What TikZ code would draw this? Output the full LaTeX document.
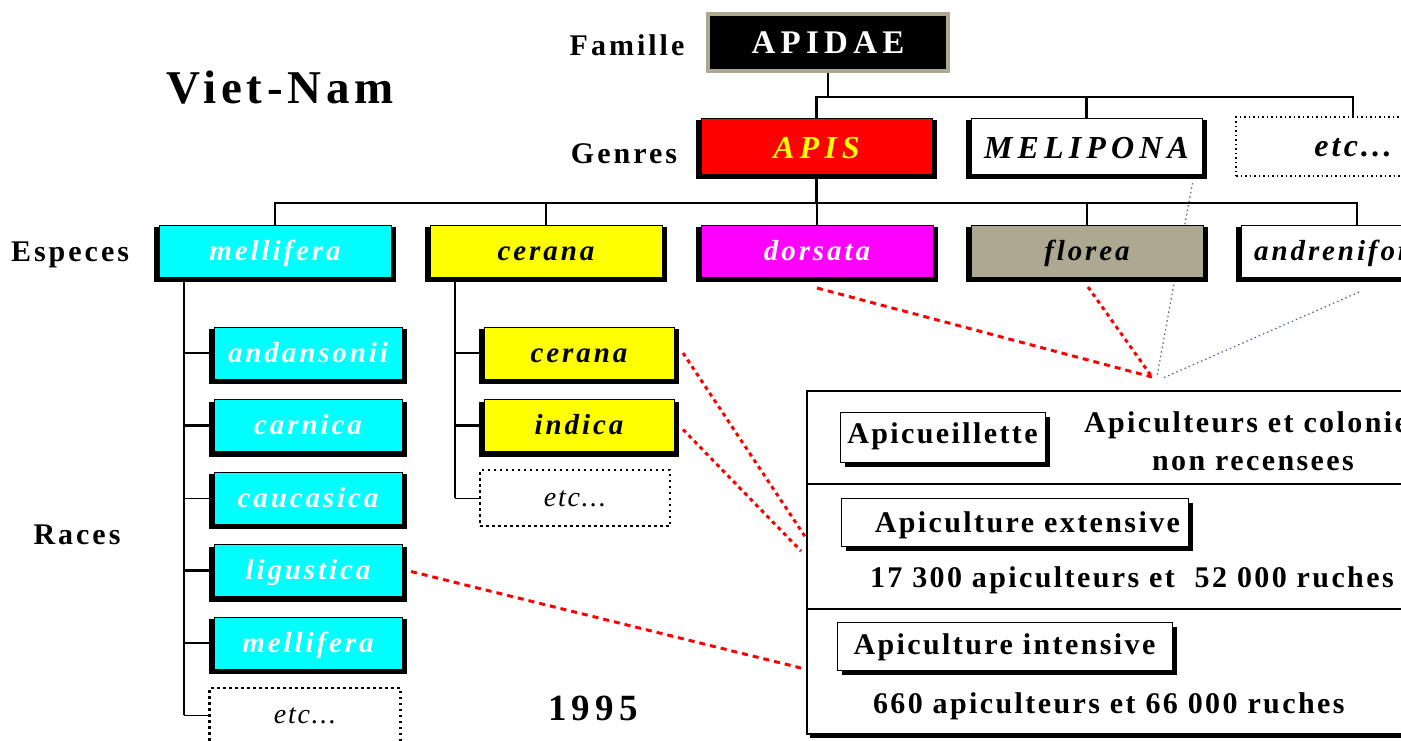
\documentclass[tikz,border=0pt]{standalone}
\usepackage{fontspec}
\setmainfont{Liberation Serif}
\newfontfamily\lsA[LetterSpace=10]{Liberation Serif}
\newfontfamily\lsB[LetterSpace=16]{Liberation Serif}
\newfontfamily\lsC[LetterSpace=8]{Liberation Serif}
\newfontfamily\lsD[LetterSpace=6]{Liberation Serif}
\newfontfamily\lsE[LetterSpace=14]{Liberation Serif}
\usetikzlibrary{backgrounds,calc,shadows}
\definecolor{florcol}{RGB}{172,168,145}
\definecolor{slatecol}{RGB}{90,95,150}
\definecolor{cyanc}{RGB}{0,255,255}
\definecolor{magc}{RGB}{255,0,255}
\definecolor{yelc}{RGB}{255,255,0}
\definecolor{redc}{RGB}{255,0,0}
\begin{document}
\begin{tikzpicture}[x=1pt,y=-1pt,
 every node/.style={inner sep=0pt, outer sep=0pt},
 lbl/.style={font=\lsA\bfseries\fontsize{30}{34}\selectfont, anchor=base},
 gbox/.style={draw=black, line width=0.8pt, minimum width=231pt, minimum height=56pt, text height=28pt, text depth=4pt, font=\lsB\bfseries\itshape\fontsize{32}{36}\selectfont},
 sbox/.style={draw=black, line width=0.8pt, minimum width=232pt, minimum height=52pt, text height=24pt, text depth=6pt, font=\lsA\bfseries\itshape\fontsize{29}{32}\selectfont},
 rbox/.style={sbox, minimum width=188pt},
 dotbox/.style={draw=black, fill=white, line width=2.5pt, dash pattern=on 2.5pt off 3.5pt, text height=20pt, text depth=4pt, font=\lsD\itshape\fontsize{28}{32}\selectfont},
 link/.style={line width=2.4pt, black},
 thinlink/.style={line width=1pt, black},
 reddash/.style={redc, line width=3pt, dash pattern=on 6pt off 5pt},
 reddot/.style={redc, line width=3pt, dash pattern=on 4pt off 4pt},
 bluedot/.style={slatecol, line width=1.2pt, dash pattern=on 1.5pt off 3pt},
 pbox/.style={draw=black, fill=white, line width=1pt, font=\lsC\bfseries\fontsize{30}{34}\selectfont, drop shadow={shadow xshift=5pt, shadow yshift=-5pt, fill=black, opacity=1}},
 ptext/.style={font=\lsC\bfseries\fontsize{30}{34}\selectfont}
]
\useasboundingbox (0,0) rectangle (1401,740);

% labels
\node[lbl, font=\lsA\bfseries\fontsize{47}{50}\selectfont] (title) at (280,103) {Viet-Nam};
\node[lbl] (famille) at (627,55) {Famille};
\node[lbl] (genres) at (624,163) {Genres};
\node[lbl] (especes) at (70,261) {Especes};
\node[lbl] (races) at (77,544) {Races};
\node[lbl, font=\lsE\bfseries\fontsize{37}{40}\selectfont] (year) at (593,720) {1995};

% family
\node[fill=black, draw=florcol, line width=4pt, minimum width=240pt, minimum height=57pt, text height=25pt, text depth=4pt, text=white, font=\lsB\bfseries\fontsize{33}{36}\selectfont] (apidae) at (828,42.5) {APIDAE};

% genres
\node[gbox, fill=redc, text=yelc] (apis) at (816.5,146) {APIS};
\node[gbox, fill=white] (meli) at (1086.5,146) {MELIPONA};
\node[dotbox, line width=1.5pt, dash pattern=on 1.5pt off 3pt, minimum width=234pt, minimum height=59pt, text height=23pt, text depth=4pt, font=\lsA\bfseries\itshape\fontsize{32}{36}\selectfont] (getc) at (1353,146.5) {etc...};

% species
\node[sbox, fill=cyanc, text=white] (mell) at (275,251) {mellifera};
\node[sbox, fill=yelc] (cer) at (546,251) {cerana};
\node[sbox, fill=magc, text=white] (dors) at (817,251) {dorsata};
\node[sbox, fill=florcol] (flor) at (1087,251) {florea};
\node[sbox, fill=white] (andre) at (1357,251) {andreniformis};

% races of mellifera
\node[rbox, fill=cyanc, text=white] (r1) at (308,353) {andansonii};
\node[rbox, fill=cyanc, text=white] (r2) at (308,425.5) {carnica};
\node[rbox, fill=cyanc, text=white] (r3) at (308,498) {caucasica};
\node[rbox, fill=cyanc, text=white] (r4) at (308,570.5) {ligustica};
\node[rbox, fill=cyanc, text=white] (r5) at (308,643) {mellifera};
\node[dotbox, minimum width=191pt, minimum height=54pt] (retc) at (305,715) {etc...};

% races of cerana
\node[rbox, fill=yelc, minimum width=190pt] (cr1) at (579,353) {cerana};
\node[rbox, fill=yelc, minimum width=190pt] (cr2) at (579,425.5) {indica};
\node[dotbox, minimum width=190pt, minimum height=56pt] (cretc) at (575,498) {etc...};

% panel
\node[draw=black, fill=white, line width=2.5pt, minimum width=693pt, minimum height=343pt] (panel) at (1153.5,562.5) {};
\fill[black] ([xshift=3pt]panel.south west) rectangle ([yshift=-4pt]panel.south east);
\coordinate (d1) at (807,484);
\coordinate (d2) at (807,609);
\draw[line width=2.5pt] (d1) -- (d1 -| panel.east);
\draw[line width=2.5pt] (d2) -- (d2 -| panel.east);

\node[pbox, minimum width=205pt, minimum height=50pt, text height=20pt, text depth=8pt] (apicu) at (942.5,437) {Apicueillette};
\node[pbox, minimum width=347pt, minimum height=48pt, text width=331pt, align=right, inner xsep=8pt, text height=24pt, text depth=4pt] (ext) at (1014.5,522) {Apiculture extensive};
\node[pbox, minimum width=335pt, minimum height=48pt, text height=22pt, text depth=6pt] (int) at (1004.5,646) {Apiculture intensive};
\node[ptext, anchor=base] (col1) at (1253,432) {Apiculteurs et colonies};
\node[ptext, anchor=base] (col2) at (1253,470) {non recensees};
\node[ptext, anchor=base west] (n1) at (870,587) {17 300 apiculteurs et~ 52 000 ruches};
\node[ptext, anchor=base west] (n2) at (873,713) {660 apiculteurs et 66 000 ruches};

% helper coordinates
\coordinate (gbar) at (0,97);
\coordinate (sbar) at (0,203);
\coordinate (mt) at (184,280);
\coordinate (ct) at (455,280);
\coordinate (conv) at (1152,377);
\coordinate (pe1) at (806,538);
\coordinate (pe2) at (801,551);
\coordinate (pe3) at (801,668);
\coordinate (c1) at (1157,376);
\coordinate (c2) at (1163,378);

\begin{scope}[on background layer]
 % tree connectors
 \draw[link] (apidae.south) -- (apidae.south |- gbar);
 \draw[link] (apis.north) |- (getc.north |- gbar) -- (getc.north);
 \draw[link] (meli.north) -- (meli.north |- gbar);
 \draw[link] (apis.south) -- (apis.south |- sbar);
 \draw[link] (mell.north) |- (andre.north |- sbar) -- (andre.north);
 \draw[link] (cer.north) -- (cer.north |- sbar);
 \draw[link] (dors.north) -- (dors.north |- sbar);
 \draw[link] (flor.north) -- (flor.north |- sbar);
 \draw[link] (mt) -- (mt |- retc.west);
 \draw[link] (mt |- r1.west) -- (r1.west);
 \draw[link] (mt |- r2.west) -- (r2.west);
 \draw[thinlink] (mt |- r3.west) -- (r3.west);
 \draw[link] (mt |- r4.west) -- (r4.west);
 \draw[link] (mt |- r5.west) -- (r5.west);
 \draw[thinlink] (mt |- retc.west) -- (retc.west);
 \draw[link] (ct) -- (ct |- cretc.west);
 \draw[link] (ct |- cr1.west) -- (cr1.west);
 \draw[link] (ct |- cr2.west) -- (cr2.west);
 \draw[thinlink] (ct |- cretc.west) -- (cretc.west);
 % dotted links
 \draw[bluedot] ($(meli.south)+(106,9)$) -- (c1);
 \draw[bluedot] ($(andre.south)+(2,15)$) -- (c2);
 % shadows
 \foreach \n in {apis,meli,mell,cer,dors,flor,andre,r1,r2,r3,r4,r5,cr1,cr2}
   \fill[black] ([xshift=-5pt,yshift=-2pt]\n.north west) rectangle ([xshift=5pt,yshift=-5pt]\n.south east);
\end{scope}

% red links
\draw[reddash] ($(dors.south)+(0,11)$) -- (conv);
\draw[reddot] ($(flor.south)+(1,10)$) -- (conv);
\draw[reddot] ($(cr1.east)+(9,0)$) -- (pe1);
\draw[reddot] ($(cr2.east)+(9,4)$) -- (pe2);
\draw[reddash] ($(r4.east)+(9,1)$) -- (pe3);
\end{tikzpicture}
\end{document}
